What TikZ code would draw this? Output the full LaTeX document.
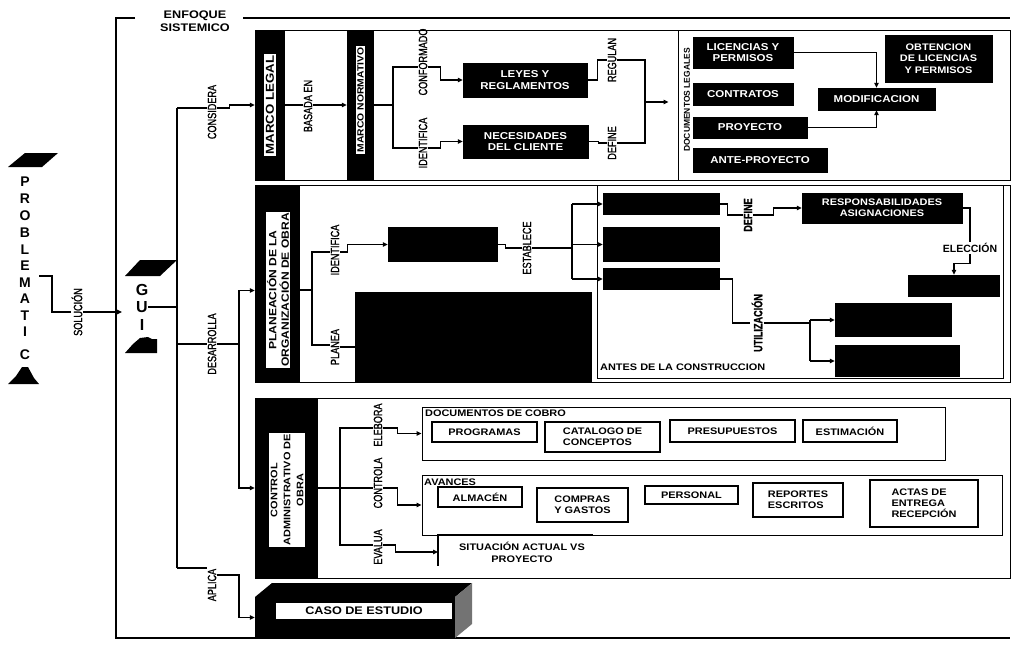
\documentclass[tikz,border=0pt]{standalone}
\usepackage{fontspec}
\setmainfont{Liberation Sans}
\newfontfamily\nrw[FakeStretch=0.76,FakeBold=1.2]{Liberation Sans}
\newfontfamily\wide[FakeStretch=1.15]{Liberation Sans}
\usetikzlibrary{arrows.meta}
\tikzset{
 conn/.style={line width=1.1pt},
 arr/.style={conn,-{Triangle[length=5pt,width=4.5pt]}},
 frm/.style={draw,line width=1pt},
 bx/.style 2 args={minimum width=#1,minimum height=#2,inner sep=0pt},
 blk/.style={fill=black,draw=black,text=white,align=center,font=\wide\bfseries\fontsize{10}{11.5}\selectfont},
 wbx/.style={draw,line width=1.6pt,align=left,font=\wide\bfseries\fontsize{9.5}{11}\selectfont},
 vlab/.style={rotate=90,inner sep=1pt,font=\nrw\fontsize{12}{13}\selectfont},
 vlabb/.style={rotate=90,inner sep=1pt,font=\nrw\bfseries\fontsize{12}{13}\selectfont},
 barlab/.style={rotate=90,fill=white,text=black,inner sep=1.5pt,align=center,font=\wide\bfseries\fontsize{9}{11}\selectfont},
 letter/.style={font=\bfseries\fontsize{14}{14}\selectfont,inner sep=0pt},
 ttl/.style={font=\wide\bfseries\fontsize{9.5}{11}\selectfont,inner sep=0pt,anchor=west},
}
\begin{document}
\begin{tikzpicture}[x=1pt,y=-1pt]
\useasboundingbox (0,0) rectangle (1025,651);

% ---------- outer bracket ----------
\coordinate (bt1) at (135,18); \coordinate (btl) at (116,18);
\coordinate (bbl) at (116,638); \coordinate (bbr) at (1010,638);
\coordinate (bt2) at (243,18); \coordinate (bt3) at (1010,18);
\draw[conn] (bt1) -- (btl) -- (bbl) -- (bbr);
\draw[conn] (bt2) -- (bt3);
\node[font=\wide\bfseries\fontsize{11}{13}\selectfont,align=center,inner sep=0pt] (enf) at (195,21) {ENFOQUE\\SISTEMICO};

% ---------- PROBLEMATICA ----------
\fill (8,167) -- (25,153) -- (58,153) -- (42,167) -- cycle;
\foreach \l/\yy [count=\i] in {P/182,R/199,O/216,B/233,L/250,E/266,M/283,A/299,T/316,I/332,C/355}
  \node[letter] (p\i) at (25,\yy) {\l};
\fill (8,384) -- (16,376) -- (22,367) -- (28,367) -- (34,378) -- (39,384) -- cycle;
\node[letter,font=\bfseries\fontsize{16}{16}\selectfont] (p12) at (23,376) {A};

\node[vlab] (sol) at (77,312) {SOLUCIÓN};
\draw[conn] ([xshift=8pt]p7.east |- 0,276) -- (52,276) |- (sol.north);

% ---------- GUIA ----------
\fill (125,276) -- (140,260) -- (177,260) -- (160,276) -- cycle;
\node[letter,font=\bfseries\fontsize{16}{16}\selectfont] (gG) at (142,290) {G};
\node[letter,font=\bfseries\fontsize{16}{16}\selectfont] (gU) at (142,307) {U};
\node[letter,font=\bfseries\fontsize{16}{16}\selectfont] (gI) at (142,325) {I};
\fill (125,353) -- (133,344) -- (140,338) -- (148,337) -- (152,339) -- (157,339) -- (157,353) -- cycle;
\node[letter,font=\bfseries\fontsize{15}{15}\selectfont] (gA) at (141,346) {A};
\draw[arr] (sol.south) -- ([xshift=-14pt]gU.west |- sol.south);

% ---------- trunk ----------
\coordinate (tr1) at (177,108); \coordinate (tr2) at (177,568);
\draw[conn] (tr1) -- (tr2);
\draw[conn] (gU.east) -- (gU.east -| tr1);
\node[vlab] (cons) at (212,112) {CONSIDERA};
\node[vlab] (desa) at (212,344) {DESARROLLA};
\node[vlab] (apli) at (212,585) {APLICA};
\draw[conn] (tr1) -- (tr1 -| cons.north);
\draw[conn] (tr1 |- desa.north) -- (desa.north);
\draw[conn] (tr2) -- (tr2 -| apli.north);

% ---------- MARCO LEGAL region ----------
\draw[frm] (255,30) rectangle (1010,180);
\node[fill=black,bx={30}{150}] (ml) at (270,105) {};
\node[barlab,font=\wide\bfseries\fontsize{11.5}{12}\selectfont] (mll) at (270,105) {MARCO LEGAL};
\draw[arr] ([yshift=4pt]cons.south) -- ++(12,0) |- (ml.west);
\node[vlab] (bas) at (308,106) {BASADA EN};
\node[fill=black,bx={27}{150}] (mn) at (360.5,105) {};
\node[barlab,font=\wide\bfseries\fontsize{9}{10}\selectfont] (mnl) at (360.5,100) {MARCO NORMATIVO};
\draw[conn] (ml.east) -- (ml.east -| bas.north);
\draw[arr] (bas.south |- ml.east) -- (ml.east -| mn.west);

\coordinate (b1t) at (393,67); \coordinate (b1b) at (393,148); \coordinate (b1m) at (393,105);
\draw[conn] (mn.east) -- (b1m);
\node[vlab] (conf) at (423,62) {CONFORMADO};
\node[vlab] (iden) at (423,143) {IDENTIFICA};
\draw[conn] (conf.north |- b1t) -| (b1b) -- (iden.north |- b1b);
\node[blk,bx={124}{34}] (leyes) at (525,80) {LEYES Y\\REGLAMENTOS};
\node[blk,bx={125}{33}] (nec) at (525.5,141.5) {NECESIDADES\\DEL CLIENTE};
\draw[arr] (conf.south |- b1t) -- ++(12,0) |- (leyes.west);
\draw[arr] (iden.south |- b1b) -- ++(12,0) |- (nec.west);

\node[vlab] (reg) at (612,60) {REGULAN};
\node[vlab] (def1) at (612,143) {DEFINE};
\draw[conn] (leyes.east) -- ++(10,0) |- (reg.north);
\draw[conn] (nec.east) -- ++(10,0) |- (def1.north);
\coordinate (m1) at (645,60); \coordinate (m3) at (645,102);
\draw[conn] (reg.south) -- (reg.south -| m1) -- (def1.south -| m1) -- (def1.south);

\node[draw,line width=1pt,bx={332}{150}] (docs) at (844,105) {};
\draw[arr,shorten >=9pt] (m3) -- (m3 -| docs.west);
\node[rotate=90,inner sep=0pt,font=\bfseries\fontsize{8.5}{10}\selectfont] (dl) at (687,100) {DOCUMENTOS LEGALES};
\node[blk,bx={100}{31}] (lic) at (743,52.5) {LICENCIAS Y\\PERMISOS};
\node[blk,bx={100}{22}] (con) at (743,94) {CONTRATOS};
\node[blk,bx={114}{21}] (pro) at (750,127.5) {PROYECTO};
\node[blk,bx={134}{24}] (ant) at (760,160) {ANTE-PROYECTO};
\node[blk,bx={117}{22}] (mod) at (876.5,99) {MODIFICACION};
\node[blk,bx={107}{47},font=\wide\bfseries\fontsize{9.5}{11.5}\selectfont] (obt) at (938.5,58.5) {OBTENCION\\DE LICENCIAS\\Y PERMISOS};
\draw[arr] (lic.east) -| (mod.north);
\draw[arr] (pro.east) -| (mod.south);

% ---------- PLANEACION region ----------
\draw[frm] (255,185) rectangle (1010,382);
\node[fill=black,bx={45}{197}] (pl) at (277.5,283.5) {};
\node[barlab,font=\wide\bfseries\fontsize{10.5}{12.5}\selectfont] (pll) at (278,290) {PLANEACIÓN DE LA\\ORGANIZACIÓN DE OBRA};
\coordinate (st) at (239,344);
\draw[conn] (desa.south) -- (st);
\draw[arr] (st) |- ([yshift=-7pt]pl.west);

\coordinate (b2t) at (312,252); \coordinate (b2b) at (312,345); \coordinate (b2m) at (312,290);
\draw[conn] (b2m -| pl.east) -- (b2m);
\node[vlab] (iden2) at (335,250) {IDENTIFICA};
\node[vlab] (plan) at (335,347) {PLANEA};
\draw[conn] (iden2.north |- b2t) -| (b2b) -- (plan.north |- b2b);
\node[fill=black,bx={110}{35}] (ib) at (443,244.5) {};
\draw[arr] (iden2.south |- b2t) -- ++(7,0) |- (ib.west);
\node[fill=black,bx={237}{90}] (bigb) at (473.5,337) {};
\draw[conn] (plan.south) -- (plan.south -| bigb.west);
\node[vlab] (est) at (527,248) {ESTABLECE};
\draw[conn] (ib.east) -- ++(7,0) |- (est.north);

\draw[frm] (597,185) rectangle (1003,378);
\node[ttl] (antes) at (600,367) {ANTES DE LA CONSTRUCCION};

\coordinate (f1) at (572,248);
\node[fill=black,bx={117}{22}] (e1) at (661.5,204) {};
\node[fill=black,bx={117}{35}] (e2) at (661.5,244.5) {};
\node[fill=black,bx={117}{22}] (e3) at (661.5,279) {};
\draw[conn] (est.south) -- (est.south -| f1);
\draw[conn] (f1 |- e1.west) -- (f1 |- e3.west);
\draw[arr] (f1 |- e1.west) -- (e1.west);
\draw[arr] (f1 |- e2.west) -- (e2.west);
\draw[arr] (f1 |- e3.west) -- (e3.west);

\node[vlabb] (def2) at (748,215) {DEFINE};
\draw[conn] (e1.east) -- ++(7,0) |- (def2.north);
\node[blk,bx={160}{30},font=\wide\bfseries\fontsize{9.5}{11}\selectfont] (resp) at (882,208) {RESPONSABILIDADES\\ASIGNACIONES};
\draw[arr] (def2.south) -- ++(20,0) |- (resp.west);
\node[inner sep=1pt,font=\bfseries\fontsize{10.5}{11}\selectfont] (ele) at (970,248) {ELECCIÓN};
\draw[conn] (resp.east) -| (ele.north);
\node[fill=black,bx={92}{22}] (el) at (954,286) {};
\draw[arr] (ele.south) -- ++(0,10) -| (el.north);

\node[vlabb] (uti) at (757,323) {UTILIZACIÓN};
\draw[conn] (e3.east) -- ++(12,0) |- (uti.north);
\coordinate (f2) at (810,323);
\draw[conn] (uti.south) -- (uti.south -| f2);
\node[fill=black,bx={117}{34}] (pap) at (893.5,320) {};
\node[fill=black,bx={125}{32}] (mq) at (897.5,361) {};
\draw[conn] (f2 |- pap.west) -- (f2 |- mq.west);
\draw[arr] (f2 |- pap.west) -- (pap.west);
\draw[arr] (f2 |- mq.west) -- (mq.west);

% ---------- CONTROL region ----------
\draw[frm] (255,398) rectangle (1010,578);
\node[fill=black,bx={63}{180}] (cb) at (286.5,488) {};
\node[barlab,font=\wide\bfseries\fontsize{9.5}{13}\selectfont] (cbl) at (287,490) {CONTROL\\ADMINISTRATIVO DE\\OBRA};
\draw[arr] (st) |- (cb.west);

\coordinate (b3t) at (340,428); \coordinate (b3b) at (340,545); \coordinate (b3m) at (340,488);
\draw[conn] (cb.east) -- (b3m);
\node[vlab] (elab) at (378,425) {ELEBORA};
\node[vlab] (ctrl) at (378,483) {CONTROLA};
\node[vlab] (eva) at (378,547) {EVALUA};
\draw[conn] (elab.north |- b3t) -| (b3b) -- (eva.north |- b3b);
\draw[conn] (b3m) -- (ctrl.north |- b3m);

\node[draw,line width=1pt,bx={523}{53}] (dc) at (683.5,433.5) {};
\node[ttl] (dct) at (425,413) {DOCUMENTOS DE COBRO};
\draw[arr] (elab.south |- b3t) -- ++(14,0) |- (dc.west);
\node[wbx,bx={105}{20}] (prog) at (484.5,432) {PROGRAMAS};
\node[wbx,bx={115}{30}] (cat) at (602.5,437) {CATALOGO DE\\CONCEPTOS};
\node[wbx,bx={125}{22}] (pres) at (732.5,431) {PRESUPUESTOS};
\node[wbx,bx={94}{22}] (estm) at (850,431) {ESTIMACIÓN};

\node[draw,line width=1pt,bx={580}{60}] (av) at (712,505) {};
\node[ttl] (avt) at (424,482) {AVANCES};
\draw[arr] (ctrl.south |- b3m) -- ++(14,0) |- (av.west);
\node[wbx,bx={84}{20}] (alm) at (480,497) {ALMACÉN};
\node[wbx,bx={91}{34}] (comp) at (582.5,505) {COMPRAS\\Y GASTOS};
\node[wbx,bx={93}{18}] (pers) at (691.5,495) {PERSONAL};
\node[wbx,bx={90}{34}] (rep) at (798,500) {REPORTES\\ESCRITOS};
\node[wbx,bx={108}{47}] (act) at (924,503.5) {ACTAS DE\\ENTREGA\\RECEPCIÓN};

\coordinate (s1) at (438,535); \coordinate (s2) at (593,535); \coordinate (s3) at (438,566);
\draw[conn] (s2) -- (s1) -- (s3);
\node[align=center,inner sep=0pt,font=\wide\bfseries\fontsize{9.5}{12}\selectfont] (sit) at (522,552) {SITUACIÓN ACTUAL VS\\PROYECTO};
\draw[arr] (eva.south |- b3b) -- ++(12,0) |- (s1 |- sit);

% ---------- CASO DE ESTUDIO ----------
\fill (255,597) -- (272,583) -- (472,583) -- (455,597) -- cycle;
\fill[black!55] (455,597) -- (472,583) -- (472,624) -- (455,638) -- cycle;
\node[fill=black,bx={200}{41}] (caso) at (355,617.5) {};
\node[fill=white,bx={176}{16},font=\wide\bfseries\fontsize{11}{11}\selectfont] (casot) at (364,611) {CASO DE ESTUDIO};
\draw[arr] ([yshift=10pt]apli.south) -- (239,575) |- (caso.west);

\end{tikzpicture}
\end{document}
